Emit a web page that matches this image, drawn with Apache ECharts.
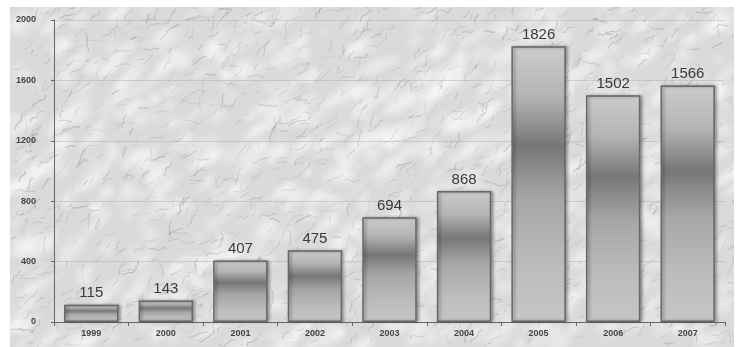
<!DOCTYPE html>
<html>
<head>
<meta charset="utf-8">
<style>
  html, body { margin: 0; padding: 0; background: #ffffff; }
  #chart { width: 740px; height: 347px; }
</style>
<script src="https://cdn.jsdelivr.net/npm/echarts@6/dist/echarts.min.js"></script>
</head>
<body>
<div id="chart"></div>
<script>
// Yearly totals
const years = ['1999', '2000', '2001', '2002', '2003', '2004', '2005', '2006', '2007'];
const totals = [115, 143, 407, 475, 694, 868, 1826, 1502, 1566];
const yMin = 0;
const yMax = 2000;
const yStep = 400;

// Marble-like backdrop painted on an offscreen canvas (seeded, so it is stable)
function makeMarble(w, h) {
  const c = document.createElement('canvas');
  c.width = w; c.height = h;
  const ctx = c.getContext('2d');
  let s = 20071999;
  const rnd = () => { s = (s * 1664525 + 1013904223) >>> 0; return s / 4294967296; };
  ctx.fillStyle = '#dadada';
  ctx.fillRect(0, 0, w, h);
  // soft light patches
  ctx.filter = 'blur(3px)';
  for (let i = 0; i < 1000; i++) {
    ctx.fillStyle = 'rgba(252,252,252,' + (0.2 + rnd() * 0.35) + ')';
    ctx.beginPath();
    ctx.ellipse(rnd() * w, rnd() * h, 4 + rnd() * 14, 2 + rnd() * 5, -0.65, 0, Math.PI * 2);
    ctx.fill();
  }
  // fine diagonal veins forming a loose network
  ctx.filter = 'blur(0.7px)';
  for (let i = 0; i < 1500; i++) {
    let x = rnd() * w, y = rnd() * h;
    const ang = -0.7 + (rnd() - 0.5) * 1.4;
    const len = 4 + rnd() * 16;
    ctx.strokeStyle = 'rgba(120,120,120,' + (0.12 + rnd() * 0.22) + ')';
    ctx.lineWidth = 0.5 + rnd() * 0.8;
    ctx.beginPath();
    ctx.moveTo(x, y);
    const steps = 3 + Math.floor(rnd() * 3);
    for (let k = 0; k < steps; k++) {
      const a = ang + (rnd() - 0.5) * 1.4;
      x += Math.cos(a) * len / steps;
      y += Math.sin(a) * len / steps;
      ctx.lineTo(x, y);
    }
    ctx.stroke();
  }
  ctx.filter = 'none';
  return c;
}

const marble = makeMarble(724, 340);

const chart = echarts.init(document.getElementById('chart'), null, { renderer: 'canvas' });

const barGradient = new echarts.graphic.LinearGradient(0, 0, 0, 1, [
  { offset: 0, color: '#cbcbcb' },
  { offset: 0.18, color: '#b4b4b4' },
  { offset: 0.36, color: '#777777' },
  { offset: 0.55, color: '#a6a6a6' },
  { offset: 0.8, color: '#bcbcbc' },
  { offset: 1, color: '#c6c6c6' }
]);

chart.setOption({
  animation: false,
  backgroundColor: '#ffffff',
  graphic: [{
    type: 'image',
    left: 10,
    top: 7,
    z: -10,
    silent: true,
    style: { image: marble, width: 724, height: 340 }
  }],
  grid: { left: 54, right: 15, top: 20, bottom: 25 },
  xAxis: {
    type: 'category',
    data: years,
    axisLine: { lineStyle: { color: '#666666', width: 1 } },
    axisTick: { show: true, length: 4, lineStyle: { color: '#666666' } },
    axisLabel: {
      color: '#444444', fontSize: 9, fontWeight: 'bold',
      fontFamily: 'Liberation Sans, Arial, sans-serif', margin: 7
    }
  },
  yAxis: {
    type: 'value',
    min: yMin,
    max: yMax,
    interval: yStep,
    axisLine: { show: true, lineStyle: { color: '#666666', width: 1 } },
    axisTick: { show: true, length: 3, lineStyle: { color: '#666666' } },
    axisLabel: {
      color: '#444444', fontSize: 9, fontWeight: 'bold',
      fontFamily: 'Liberation Sans, Arial, sans-serif', margin: 18,
      formatter: (v) => String(v)
    },
    splitLine: { lineStyle: { color: 'rgba(175,175,175,0.5)', width: 1 } }
  },
  series: [{
    type: 'bar',
    data: totals,
    barCategoryGap: '27%',
    itemStyle: {
      color: barGradient,
      borderColor: '#676767',
      borderWidth: 1.5,
      shadowColor: 'rgba(0,0,0,0.35)',
      shadowBlur: 3,
      shadowOffsetX: 2,
      shadowOffsetY: 0
    },
    label: {
      show: true,
      position: 'top',
      distance: 4,
      color: '#3a3a3a',
      fontSize: 15,
      fontFamily: 'Liberation Sans, Arial, sans-serif'
    }
  }]
});
</script>
</body>
</html>
